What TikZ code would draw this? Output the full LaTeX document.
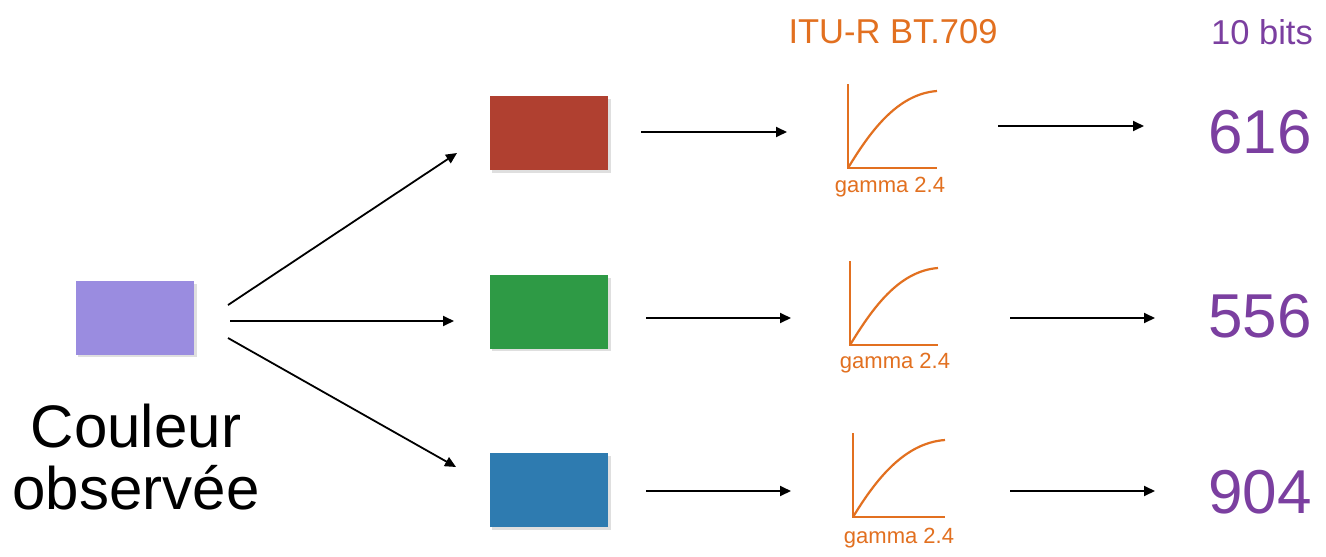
\documentclass[tikz,border=0pt]{standalone}
\usepackage{fontspec}
\setmainfont{Liberation Sans}
\usetikzlibrary{arrows.meta}
\definecolor{lilac}{RGB}{154,140,224}
\definecolor{chanR}{RGB}{176,64,48}
\definecolor{chanG}{RGB}{46,154,69}
\definecolor{chanB}{RGB}{46,123,176}
\definecolor{gam}{RGB}{226,112,32}
\definecolor{bits}{RGB}{123,63,160}
\tikzset{
  swatch/.style={minimum width=118pt, minimum height=74pt, inner sep=0pt, draw=none},
  shade/.style={fill=black!35, opacity=0.35},
  link/.style={-{Triangle[length=11pt,width=10pt]}, line width=1.8pt, black},
  axis/.style={draw=gam, line width=2.2pt},
  curve/.style={draw=gam, line width=2.2pt},
  glabel/.style={text=gam, font=\fontsize{22}{25}\selectfont, inner sep=0pt},
  value/.style={text=bits, font=\fontsize{62}{68}\selectfont, inner sep=0pt},
  head/.style={font=\fontsize{34.5}{39}\selectfont, inner sep=0pt},
}
\begin{document}
\begin{tikzpicture}[x=1pt,y=-1pt]
\useasboundingbox (0,0) rectangle (1326,557);
\fill[white] (0,0) rectangle (1326,557);

% headers
\node[head, text=gam] (hdrG) at (893,32) {ITU-R BT.709};
\node[head, text=bits] (hdrB) at (1262,32) {10 bits};

% observed colour
\fill[shade] (78,284) rectangle (197,357);
\node[swatch, fill=lilac] (obs) at (135,317.5) {};
\node[font=\fontsize{60}{66}\selectfont, align=center, inner sep=0pt] (obsT) at (136,457)
  {Couleur\\[-4pt]observée};

% channel swatches
\fill[shade] (492,99) rectangle (611,173);
\node[swatch, fill=chanR] (red) at (549,133) {};
\fill[shade] (492,278) rectangle (611,351);
\node[swatch, fill=chanG] (green) at (549,311.5) {};
\fill[shade] (492,456) rectangle (611,530);
\node[swatch, fill=chanB] (blue) at (549,490) {};

% split arrows
\coordinate (s1) at (228,305); \coordinate (e1) at (457,153);
\coordinate (s2) at (230,321); \coordinate (e2) at (454,321);
\coordinate (s3) at (228,338); \coordinate (e3) at (456,467);
\draw[link] (s1) -- (e1);
\draw[link] (s2) -- (e2);
\draw[link] (s3) -- (e3);

% gamma curves
\foreach \n/\x/\y/\w/\lx/\ly in {1/848/168/89/890/187, 2/850/345/88/895/363, 3/853/517/92/899/538}{
  \draw[axis] (\x,\y-84) -- (\x,\y) -- (\x+\w,\y);
  \draw[curve] (\x,\y) .. controls (\x+22,\y-36) and (\x+\w*0.55,\y-74) .. (\x+\w,\y-77);
  \node[glabel] (g\n) at (\lx,\ly) {gamma 2.4};
}

% arrows into the curves
\coordinate (a1) at (641,132); \coordinate (b1) at (787,132);
\coordinate (a2) at (646,318); \coordinate (b2) at (791,318);
\coordinate (a3) at (646,491); \coordinate (b3) at (791,491);
\draw[link] (a1) -- (b1);
\draw[link] (a2) -- (b2);
\draw[link] (a3) -- (b3);

% arrows to the coded values
\coordinate (c1) at (998,126); \coordinate (d1) at (1144,126);
\coordinate (c2) at (1010,318); \coordinate (d2) at (1155,318);
\coordinate (c3) at (1010,491); \coordinate (d3) at (1155,491);
\draw[link] (c1) -- (d1);
\draw[link] (c2) -- (d2);
\draw[link] (c3) -- (d3);

% coded values
\node[value] (v1) at (1260,132) {616};
\node[value] (v2) at (1260,316) {556};
\node[value] (v3) at (1260,492) {904};
\end{tikzpicture}
\end{document}
